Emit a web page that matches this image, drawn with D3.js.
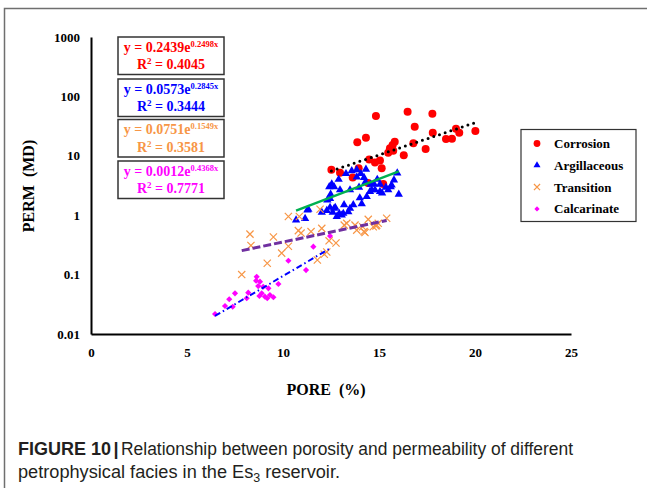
<!DOCTYPE html>
<html>
<head>
<meta charset="utf-8">
<script src="https://cdn.jsdelivr.net/npm/d3@7"></script>
<style>
  body { margin: 0; background: #fff; }
  svg { display: block; }
</style>
</head>
<body>
<div id="chart"></div>
<script>
// porosity (%) , permeability (mD), one list per facies
const corrosion = [
  [14.84, 46.8], [16.49, 55.2], [17.78, 51.1], [16.86, 30.9], [13.87, 16.9], [14.32, 20.2],
  [17.80, 24.5], [19.01, 28.6], [19.18, 24.5], [20.02, 26.2], [18.49, 19.2], [18.80, 19.3],
  [15.82, 17.3], [15.71, 15.2], [15.57, 13.4], [15.48, 11.3], [15.74, 12.2], [16.29, 10.2],
  [16.79, 16.2], [17.43, 13.0], [14.49, 8.7], [14.79, 7.7], [15.05, 8.3], [15.14, 6.2],
  [12.52, 5.8], [12.97, 5.2], [13.94, 6.2], [13.63, 4.3], [15.22, 3.35], [14.43, 3.5]
];
const argillaceous = [
  [14.32, 5.9], [13.84, 5.8], [13.58, 5.6], [14.05, 5.0], [14.22, 4.3], [13.84, 4.4],
  [13.28, 5.0], [12.90, 4.0], [12.54, 3.35], [12.41, 3.0], [12.66, 3.0], [12.97, 2.66],
  [12.48, 2.25], [13.49, 2.66], [13.96, 2.95], [14.29, 3.6], [14.57, 3.3], [14.74, 3.35],
  [14.91, 4.0], [15.05, 3.3], [15.78, 3.9], [15.61, 3.0], [15.95, 5.1], [16.03, 2.25],
  [15.16, 2.35], [14.62, 2.66], [14.36, 2.05], [15.36, 2.95], [10.68, 0.83], [11.15, 0.88],
  [11.27, 1.22], [12.02, 1.12], [12.28, 1.2], [12.59, 1.12], [12.72, 1.35], [12.93, 1.07],
  [13.18, 1.49], [13.14, 1.07], [13.40, 1.14], [13.49, 1.3], [13.66, 1.49], [14.10, 1.55],
  [14.00, 1.95], [11.32, 1.25], [13.06, 1.0], [12.80, 0.95], [12.45, 1.35], [12.66, 1.3],
  [12.31, 1.8], [12.45, 1.9], [14.53, 2.5], [14.79, 2.66], [15.05, 2.5], [15.48, 2.66],
  [15.66, 3.2]
];
const transition = [
  [10.28, 0.95], [8.28, 0.48], [8.33, 0.31], [9.50, 0.43], [9.93, 0.23], [10.28, 0.30],
  [9.18, 0.155], [7.85, 0.10], [10.80, 0.55], [10.94, 0.50], [11.46, 0.53], [11.93, 1.26],
  [12.02, 0.60], [12.40, 0.37], [12.76, 0.34], [12.28, 0.24], [11.79, 0.176], [12.15, 0.22],
  [13.19, 0.68], [13.32, 0.73], [13.75, 0.68], [13.84, 0.56], [14.15, 0.64], [14.27, 0.51],
  [14.44, 0.85], [14.70, 0.64], [14.88, 0.68], [14.96, 0.73], [15.40, 0.89], [10.85, 0.95],
  [14.84, 0.66], [14.22, 0.53]
];
const calcarinate = [
  [12.45, 0.447], [11.58, 0.295], [10.28, 0.171], [11.20, 0.119], [9.76, 0.0695], [8.63, 0.092],
  [8.60, 0.079], [8.80, 0.076], [8.71, 0.064], [8.97, 0.0625], [9.24, 0.0588], [8.89, 0.0484],
  [9.06, 0.0425], [9.32, 0.0454], [9.50, 0.0415], [9.18, 0.040], [8.77, 0.0436], [8.19, 0.0496],
  [8.11, 0.040], [7.50, 0.0484], [7.20, 0.0384], [6.98, 0.0296], [7.38, 0.0288], [6.46, 0.0217]
];

const facies = ["Corrosion", "Argillaceous", "Transition", "Calcarinate"];
const faciesColors = ["#ff0000", "#0000ff", "#f79646", "#ff00ff"];
// exponential fits y = a * e^(b x) printed on the chart
const fitA = [0.2439, 0.0573, 0.0751, 0.0012];
const fitB = [0.2498, 0.2845, 0.1549, 0.4368];
const fitR2 = [0.4045, 0.3444, 0.3581, 0.7771];
const fitColors = ["#000000", "#00b050", "#7030a0", "#0000ff"];
const xTicks = [0, 5, 10, 15, 20, 25];
const yTicks = [0.01, 0.1, 1, 10, 100, 1000];

const series = [corrosion, argillaceous, transition, calcarinate];
const W = 647, H = 488;
const serif = "'Times New Roman', 'Liberation Serif', serif";

const svg = d3.select("#chart").append("svg")
  .attr("width", W)
  .attr("height", H);

// outer figure frame (runs off right and bottom)
svg.append("path")
  .attr("d", `M4.5,${H} V8.5 H${W}`)
  .attr("fill", "none")
  .attr("stroke", "#6f6f6f")
  .attr("stroke-width", 1.5);

const x = d3.scaleLinear().domain([0, 25]).range([91, 571]);
const y = d3.scaleLog().domain([0.01, 1000]).range([334, 37]);

// axes, no tick marks
const xAxis = svg.append("g")
  .attr("transform", `translate(0,${y(0.01)})`)
  .call(d3.axisBottom(x).tickValues(xTicks).tickFormat(d3.format("d")).tickSize(0).tickPadding(14));
const yAxis = svg.append("g")
  .attr("transform", `translate(${x(0)},0)`)
  .call(d3.axisLeft(y).tickValues(yTicks).tickFormat(d => d).tickSize(0).tickPadding(11));

[xAxis, yAxis].forEach(g => {
  g.select(".domain").attr("stroke", "#000").attr("stroke-width", 2);
  g.selectAll("text")
    .attr("fill", "#000")
    .style("font-family", serif)
    .style("font-weight", "bold")
    .style("font-size", "13px");
});

svg.append("text")
  .attr("transform", "translate(34,186) rotate(-90)")
  .attr("text-anchor", "middle")
  .style("white-space", "pre")
  .style("font-family", serif)
  .style("font-weight", "bold")
  .style("font-size", "16px")
  .text("PERM  (MD)");

svg.append("text")
  .attr("x", 326)
  .attr("y", 395)
  .attr("text-anchor", "middle")
  .style("white-space", "pre")
  .style("font-family", serif)
  .style("font-weight", "bold")
  .style("font-size", "16px")
  .text("PORE  (%)");

// marker drawing per facies
function drawMarker(sel, i, scale) {
  const c = faciesColors[i];
  if (i === 0) {
    sel.append("circle").attr("r", 4 * scale).attr("fill", c);
  } else if (i === 1) {
    sel.append("path").attr("d", d3.symbol(d3.symbolTriangle, 30 * scale * scale)()).attr("fill", c);
  } else if (i === 2) {
    const s = 3.6 * scale;
    sel.append("path")
      .attr("d", `M${-s},${-s}L${s},${s}M${-s},${s}L${s},${-s}`)
      .attr("stroke", c)
      .attr("stroke-width", 1.2)
      .attr("fill", "none");
  } else {
    sel.append("path")
      .attr("d", d3.symbol(d3.symbolSquare, 19 * scale * scale)())
      .attr("transform", "rotate(45)")
      .attr("fill", c);
  }
}

const marks = svg.append("g");
series.forEach((data, i) => {
  marks.selectAll(null)
    .data(data)
    .enter().append("g")
    .attr("transform", d => `translate(${x(d[0])},${y(d[1])})`)
    .each(function () { drawMarker(d3.select(this), i, 1); });
});

// trend lines over each facies' porosity range
const fitDash = ["0,6", null, "8,3", "6,3,1.5,3"];
const fitWidth = [3, 2.5, 3, 2];
const line = d3.line().x(d => x(d[0])).y(d => y(d[1]));
series.forEach((data, i) => {
  const ext = d3.extent(data, d => d[0]);
  const pts = ext.map(p => [p, fitA[i] * Math.exp(fitB[i] * p)]);
  svg.append("path")
    .attr("d", line(pts))
    .attr("fill", "none")
    .attr("stroke", fitColors[i])
    .attr("stroke-width", fitWidth[i])
    .attr("stroke-linecap", i === 0 ? "round" : "butt")
    .attr("stroke-dasharray", fitDash[i]);
});

// equation boxes
const boxTops = [37, 79, 119.5, 161];
series.forEach((data, i) => {
  const g = svg.append("g").attr("transform", `translate(118,${boxTops[i]})`);
  g.append("rect")
    .attr("width", 106)
    .attr("height", 37.5)
    .attr("fill", "#fff")
    .attr("stroke", "#333")
    .attr("stroke-width", 1.5);
  const t1 = g.append("text")
    .attr("x", 53)
    .attr("y", 14.5)
    .attr("text-anchor", "middle")
    .attr("fill", faciesColors[i])
    .style("font-family", serif)
    .style("font-weight", "bold")
    .style("font-size", "14px");
  t1.append("tspan").text(`y = ${fitA[i].toFixed(4)}e`);
  t1.append("tspan").attr("dy", -5).style("font-size", "8.5px").text(`${fitB[i].toFixed(4)}x`);
  const t2 = g.append("text")
    .attr("x", 53)
    .attr("y", 32)
    .attr("text-anchor", "middle")
    .attr("fill", faciesColors[i])
    .style("font-family", serif)
    .style("font-weight", "bold")
    .style("font-size", "14px");
  t2.append("tspan").text("R");
  t2.append("tspan").attr("dy", -5).style("font-size", "9px").text("2");
  t2.append("tspan").attr("dy", 5).text(` = ${fitR2[i].toFixed(4)}`);
});

// legend
const legend = svg.append("g").attr("transform", "translate(521,129.5)");
legend.append("rect")
  .attr("width", 115)
  .attr("height", 92)
  .attr("fill", "#fff")
  .attr("stroke", "#333")
  .attr("stroke-width", 1.2);
facies.forEach((name, i) => {
  const row = legend.append("g").attr("transform", `translate(16,${14 + i * 21.8})`);
  drawMarker(row, i, 0.85);
  row.append("text")
    .attr("x", 17)
    .attr("dy", "0.35em")
    .attr("fill", "#000")
    .style("font-family", serif)
    .style("font-weight", "bold")
    .style("font-size", "13px")
    .text(name);
});

// caption: bold label, bar, then a narrow body squeezed to the printed width
const sans = "'Liberation Sans', Arial, sans-serif";
svg.append("text")
  .attr("x", 18)
  .attr("y", 455)
  .attr("fill", "#231f20")
  .style("font-family", sans)
  .style("font-weight", "bold")
  .style("font-size", "18px")
  .text("FIGURE 10");

svg.append("text")
  .attr("x", 113.5)
  .attr("y", 455)
  .attr("fill", "#231f20")
  .style("font-family", sans)
  .style("font-weight", "bold")
  .style("font-size", "18px")
  .text("|");

svg.append("text")
  .attr("x", 121)
  .attr("y", 455)
  .attr("fill", "#231f20")
  .attr("textLength", 452)
  .attr("lengthAdjust", "spacingAndGlyphs")
  .style("font-family", sans)
  .style("font-size", "17.5px")
  .text("Relationship between porosity and permeability of different");

const cap2 = svg.append("text")
  .attr("x", 18)
  .attr("y", 478)
  .attr("fill", "#231f20")
  .attr("textLength", 322)
  .attr("lengthAdjust", "spacingAndGlyphs")
  .style("font-family", sans)
  .style("font-size", "17.5px");
cap2.append("tspan").text("petrophysical facies in the Es");
cap2.append("tspan").attr("dy", 4).style("font-size", "12px").text("3");
cap2.append("tspan").attr("dy", -4).text(" reservoir.");
</script>
</body>
</html>
